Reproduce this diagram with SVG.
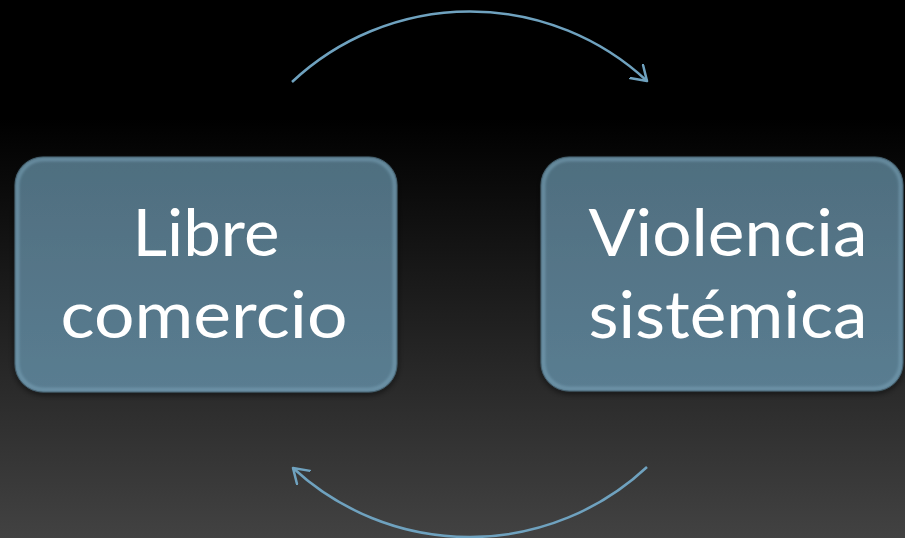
<svg xmlns="http://www.w3.org/2000/svg" width="905" height="538" viewBox="0 0 905 538">
  <defs>
    <linearGradient id="bg" x1="0" y1="0" x2="0" y2="1">
      <stop offset="0" stop-color="#000000"/>
      <stop offset="0.22" stop-color="#000000"/>
      <stop offset="1" stop-color="#424242"/>
    </linearGradient>
    <linearGradient id="boxFill" x1="0" y1="0" x2="0" y2="1">
      <stop offset="0" stop-color="#4f6e7f"/>
      <stop offset="1" stop-color="#5a7d91"/>
    </linearGradient>
    <filter id="shadow" x="-10%" y="-10%" width="120%" height="125%">
      <feGaussianBlur in="SourceAlpha" stdDeviation="3"/>
      <feOffset dy="2" result="b"/>
      <feFlood flood-color="#000" flood-opacity="0.6"/>
      <feComposite in2="b" operator="in"/>
      <feMerge><feMergeNode/><feMergeNode in="SourceGraphic"/></feMerge>
    </filter>
    <filter id="soft" x="-5%" y="-5%" width="110%" height="110%">
      <feGaussianBlur stdDeviation="1.5"/>
    </filter>
    <marker id="arrow" markerUnits="userSpaceOnUse" markerWidth="24" markerHeight="24" refX="15" refY="10" orient="auto">
      <path d="M0.5,0.5 L15,10 L0.5,19.5" fill="none" stroke="#6fa2bf" stroke-width="2.5" stroke-linecap="round" stroke-linejoin="round"/>
    </marker>
    <style>
      .box { fill: url(#boxFill); stroke: #3d5663; stroke-width: 1; }
      .bevel { fill: none; stroke: #7aa3b8; stroke-width: 3; opacity: 0.7; }
      .label { font-family: Lato, "Open Sans", "Noto Sans", sans-serif; font-size: 66px; fill: #ffffff; text-anchor: middle; }
      .conn { fill: none; stroke: #6fa2bf; stroke-width: 2.5; }
    </style>
  </defs>

  <rect x="0" y="0" width="905" height="538" fill="url(#bg)"/>

  <g id="connectors">
    <path class="conn" d="M292,82 A260,260 0 0 1 647,81" marker-end="url(#arrow)"/>
    <path class="conn" d="M647,467 A260,260 0 0 1 293,468" marker-end="url(#arrow)"/>
  </g>

  <g id="node-libre-comercio">
    <g filter="url(#shadow)">
      <rect class="box" x="15" y="157" width="382" height="235" rx="28"/>
    </g>
    <rect class="bevel" x="17.5" y="159.5" width="377" height="230" rx="26" filter="url(#soft)"/>
    <text class="label"><tspan x="206" y="256" textLength="147" lengthAdjust="spacingAndGlyphs">Libre</tspan><tspan x="204" y="338" textLength="287" lengthAdjust="spacingAndGlyphs">comercio</tspan></text>
  </g>

  <g id="node-violencia-sistemica">
    <g filter="url(#shadow)">
      <rect class="box" x="541" y="157" width="362" height="234" rx="28"/>
    </g>
    <rect class="bevel" x="543.5" y="159.5" width="357" height="229" rx="26" filter="url(#soft)"/>
    <text class="label"><tspan x="728" y="256" textLength="279" lengthAdjust="spacingAndGlyphs">Violencia</tspan><tspan x="728" y="338" textLength="279" lengthAdjust="spacingAndGlyphs">sistémica</tspan></text>
  </g>
</svg>
